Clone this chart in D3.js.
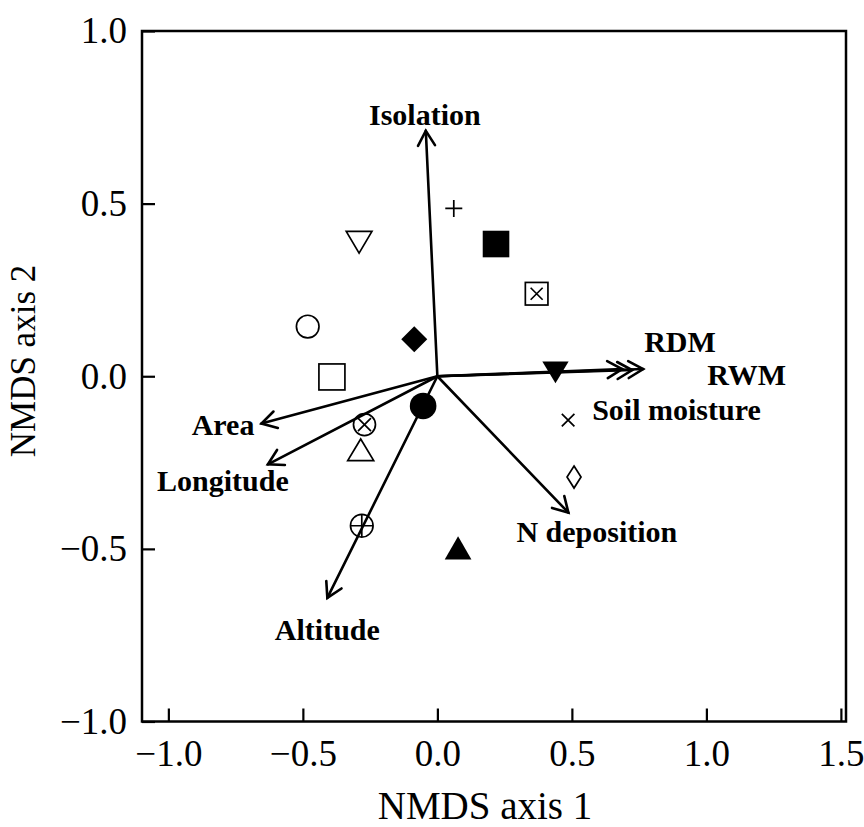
<!DOCTYPE html>
<html>
<head>
<meta charset="utf-8">
<script src="https://cdn.jsdelivr.net/npm/d3@7"></script>
<style>
  body { margin: 0; background: #fff; }
  svg { display: block; }
</style>
</head>
<body>
<svg id="chart" width="864" height="827"></svg>
<script>
// Axis ticks
const xTicks = [-1.0, -0.5, 0.0, 0.5, 1.0, 1.5];
const yTicks = [-1.0, -0.5, 0.0, 0.5, 1.0];

// Site scores on the two NMDS axes, with the marker used for each site
const siteAxis1 = [0.061, 0.218, 0.369, -0.291, -0.482, -0.086, -0.392, 0.439, 0.486, 0.508, -0.053, -0.271, -0.285, -0.281, 0.077];
const siteAxis2 = [0.486, 0.383, 0.239, 0.388, 0.144, 0.107, -0.002, 0.011, -0.127, -0.292, -0.086, -0.140, -0.213, -0.433, -0.497];
const siteMarker = ["plus", "squareFilled", "squareCross", "triDownOpen", "circleOpen", "diamondFilled", "squareOpen",
                    "triDownFilled", "cross", "diamondNarrow", "circleFilled", "circleCross", "triUpOpen", "circlePlus", "triUpFilled"];

// Fitted environmental vectors (arrow tips)
const vectorNames = ["Isolation", "RDM", "RWM", "Soil moisture", "Area", "Longitude", "Altitude", "N deposition"];
const vectorAxis1 = [-0.043, 0.765, 0.724, 0.687, -0.654, -0.630, -0.409, 0.487];
const vectorAxis2 = [0.711, 0.021, 0.018, 0.021, -0.137, -0.255, -0.642, -0.395];

// Label placement relative to each arrow tip (px) and anchor
const labelLayout = {
  "Isolation":     { dx: -1,   dy: -6,   anchor: "middle" },
  "RDM":           { dx: 1,    dy: -17,  anchor: "start" },
  "RWM":           { dx: 75,   dy: 15,   anchor: "start" },
  "Soil moisture": { dx: -30,  dy: 51,   anchor: "start" },
  "Area":          { dx: -7,   dy: 11,   anchor: "end" },
  "Longitude":     { dx: -45,  dy: 27,   anchor: "middle" },
  "Altitude":      { dx: 0,    dy: 42,   anchor: "middle" },
  "N deposition":  { dx: -52,  dy: 29,   anchor: "start" }
};

const svg = d3.select("#chart");
const plotLeft = 142, plotRight = 846, plotTop = 31, plotBottom = 721.5;

const x = d3.scaleLinear().domain([-1.098, 1.519]).range([plotLeft, plotRight]);
const y = d3.scaleLinear().domain([-1, 1]).range([plotBottom, plotTop]);

const serif = "'Liberation Serif', 'Times New Roman', serif";
const fmt = d3.format(".1f");

// Axes with inward ticks
const gx = svg.append("g").attr("transform", `translate(0,${plotBottom})`)
  .call(d3.axisBottom(x).tickValues(xTicks).tickFormat(fmt).tickSize(-13).tickPadding(18));
const gy = svg.append("g").attr("transform", `translate(${plotLeft},0)`)
  .call(d3.axisLeft(y).tickValues(yTicks).tickFormat(fmt).tickSize(-13).tickPadding(15));
[gx, gy].forEach(g => {
  g.select(".domain").remove();
  g.selectAll(".tick line").attr("stroke", "#000").attr("stroke-width", 2.2);
  g.selectAll(".tick text").attr("fill", "#000")
    .style("font-family", serif).style("font-size", "37px");
});

// Frame
svg.append("rect")
  .attr("x", plotLeft).attr("y", plotTop)
  .attr("width", plotRight - plotLeft).attr("height", plotBottom - plotTop)
  .attr("fill", "none").attr("stroke", "#000").attr("stroke-width", 2.5);

// Axis titles
svg.append("text")
  .attr("x", 485).attr("y", 819)
  .attr("text-anchor", "middle")
  .style("font-family", serif).style("font-size", "39px")
  .text("NMDS axis 1");
svg.append("text")
  .attr("transform", "translate(35,361) rotate(-90)")
  .attr("text-anchor", "middle")
  .style("font-family", serif).style("font-size", "35px")
  .text("NMDS axis 2");

// Vectors
const vectors = vectorNames.map((name, i) => ({ name, vx: vectorAxis1[i], vy: vectorAxis2[i] }));
const vg = svg.append("g");
const ox = x(0), oy = y(0);
const armLen = 17, armAng = 30 * Math.PI / 180;
vectors.forEach(v => {
  const tx = x(v.vx), ty = y(v.vy);
  const ang = Math.atan2(oy - ty, ox - tx); // direction from tip back to origin
  vg.append("line")
    .attr("x1", ox).attr("y1", oy).attr("x2", tx).attr("y2", ty)
    .attr("stroke", "#000").attr("stroke-width", 2.6).attr("stroke-linecap", "round");
  const a1 = [tx + armLen * Math.cos(ang + armAng), ty + armLen * Math.sin(ang + armAng)];
  const a2 = [tx + armLen * Math.cos(ang - armAng), ty + armLen * Math.sin(ang - armAng)];
  vg.append("path")
    .attr("d", `M${a1[0]},${a1[1]}L${tx},${ty}L${a2[0]},${a2[1]}`)
    .attr("fill", "none").attr("stroke", "#000").attr("stroke-width", 2.6)
    .attr("stroke-linecap", "round").attr("stroke-linejoin", "miter");
  const L = labelLayout[v.name];
  vg.append("text")
    .attr("x", tx + L.dx).attr("y", ty + L.dy)
    .attr("text-anchor", L.anchor)
    .style("font-family", serif).style("font-size", "30px").style("font-weight", "bold")
    .text(v.name);
});

// Site markers
const sites = siteMarker.map((m, i) => ({ m, sx: siteAxis1[i], sy: siteAxis2[i] }));
const sg = svg.append("g");
const sw = 1.7;
function tri(w, h, up) {
  const hw = w / 2, hh = h / 2;
  return up ? `M0,${-hh}L${hw},${hh}L${-hw},${hh}Z` : `M0,${hh}L${hw},${-hh}L${-hw},${-hh}Z`;
}
sites.forEach(s => {
  const g = sg.append("g").attr("transform", `translate(${x(s.sx)},${y(s.sy)})`);
  const stroke = el => el.attr("fill", "none").attr("stroke", "#000").attr("stroke-width", sw);
  switch (s.m) {
    case "plus":
      stroke(g.append("path").attr("d", "M-8.5,0H8.5M0,-8.5V8.5"));
      break;
    case "cross":
      stroke(g.append("path").attr("d", "M-6.3,-6.3L6.3,6.3M-6.3,6.3L6.3,-6.3"));
      break;
    case "squareFilled":
      g.append("rect").attr("x", -13.3).attr("y", -13.3).attr("width", 26.6).attr("height", 26.6).attr("fill", "#000");
      break;
    case "squareOpen":
      stroke(g.append("rect").attr("x", -13).attr("y", -13).attr("width", 26).attr("height", 26));
      break;
    case "squareCross":
      stroke(g.append("rect").attr("x", -11.3).attr("y", -11.3).attr("width", 22.6).attr("height", 22.6));
      stroke(g.append("path").attr("d", "M-6,-6L6,6M-6,6L6,-6"));
      break;
    case "circleOpen":
      stroke(g.append("circle").attr("r", 11.3));
      break;
    case "circleFilled":
      g.append("circle").attr("r", 13.3).attr("fill", "#000");
      break;
    case "circleCross":
      stroke(g.append("circle").attr("r", 11));
      stroke(g.append("path").attr("d", "M-6.5,-6.5L6.5,6.5M-6.5,6.5L6.5,-6.5"));
      break;
    case "circlePlus":
      stroke(g.append("circle").attr("r", 11.3));
      stroke(g.append("path").attr("d", "M-11.3,0H11.3M0,-11.3V11.3"));
      break;
    case "triDownOpen":
      stroke(g.append("path").attr("d", tri(25.7, 21.7, false)));
      break;
    case "triDownFilled":
      g.append("path").attr("d", tri(26.3, 21.7, false)).attr("fill", "#000");
      break;
    case "triUpOpen":
      stroke(g.append("path").attr("d", tri(26, 21.7, true)));
      break;
    case "triUpFilled":
      g.append("path").attr("d", tri(26.7, 23.3, true)).attr("fill", "#000");
      break;
    case "diamondFilled":
      g.append("path").attr("d", "M0,-13L13,0L0,13L-13,0Z").attr("fill", "#000");
      break;
    case "diamondNarrow":
      stroke(g.append("path").attr("d", "M0,-11L7,0L0,11L-7,0Z"));
      break;
  }
});
</script>
</body>
</html>
